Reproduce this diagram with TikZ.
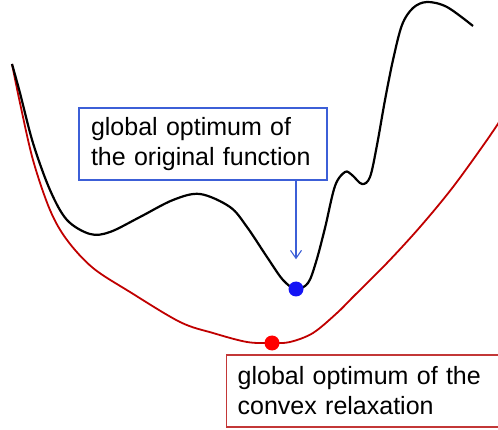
\documentclass[tikz,border=0pt]{standalone}
\usepackage{fontspec}
\setmainfont{Liberation Sans}
\usetikzlibrary{arrows.meta,positioning,calc}
\definecolor{CurveBlack}{RGB}{0,0,0}
\definecolor{DarkRed}{RGB}{192,0,0}
\definecolor{DotRed}{RGB}{255,0,0}
\definecolor{DotBlue}{RGB}{20,20,245}
\definecolor{FrameBlue}{RGB}{60,95,215}
\definecolor{FrameRed}{RGB}{195,55,55}
\tikzset{
  callout/.style={draw,line width=1.3pt,fill=white,align=left,text=black,font=\fontsize{25}{30}\selectfont,minimum height=72pt,inner ysep=4pt},
  origbox/.style={callout,draw=FrameBlue,text width=224pt,inner xsep=12pt},
  relaxbox/.style={callout,draw=FrameRed,text width=265pt,inner xsep=11pt},
  optdot/.style={circle,inner sep=0pt,minimum size=15pt},
  origcurve/.style={line width=2.2pt,draw=CurveBlack,line join=round},
  relaxcurve/.style={line width=1.8pt,draw=DarkRed,line join=round},
  pointer/.style={-{Straight Barb[length=8pt,width=11pt]},line width=1.1pt,draw=FrameBlue,shorten >=22pt}
}
\begin{document}
\begin{tikzpicture}[x=1pt,y=-1pt]
  \clip (0,0) rectangle (498,430);
  % convex relaxation
  \draw[relaxcurve] plot[smooth,tension=0.55] coordinates {
    (12,64) (20,103) (33,160) (50,210) (67,240) (93,268) (130,292) (180,322)
    (213,333) (247,342) (272,343) (290,342) (313,333) (337,313) (353,297)
    (387,263) (420,227) (453,187) (487,140) (505,113)};
  % original function
  \draw[origcurve] plot[smooth,tension=0.55] coordinates {
    (12,64) (20,93) (33,143) (50,190) (67,220) (90,234) (110,232) (140,217)
    (173,200) (200,194) (230,207) (247,227) (267,257) (283,280) (296,289)
    (308,283) (316,262) (325,228) (335,186) (345,172) (352,175) (362,184)
    (370,177) (377,145) (385,100) (393,60) (402,25) (413,8) (427,2) (447,7)
    (473,26)};
  \node[optdot,fill=DotBlue] (bmin) at (296,289) {};
  \node[optdot,fill=DotRed] (rmin) at (272,343) {};
  \node[origbox] (orig) at (203,144) {global optimum of\\the original function};
  \node[relaxbox,anchor=west] (relax) at (226,391) {global optimum of the\\convex relaxation};
  \draw[pointer] (orig.south -| bmin) -- (bmin);
\end{tikzpicture}
\end{document}
